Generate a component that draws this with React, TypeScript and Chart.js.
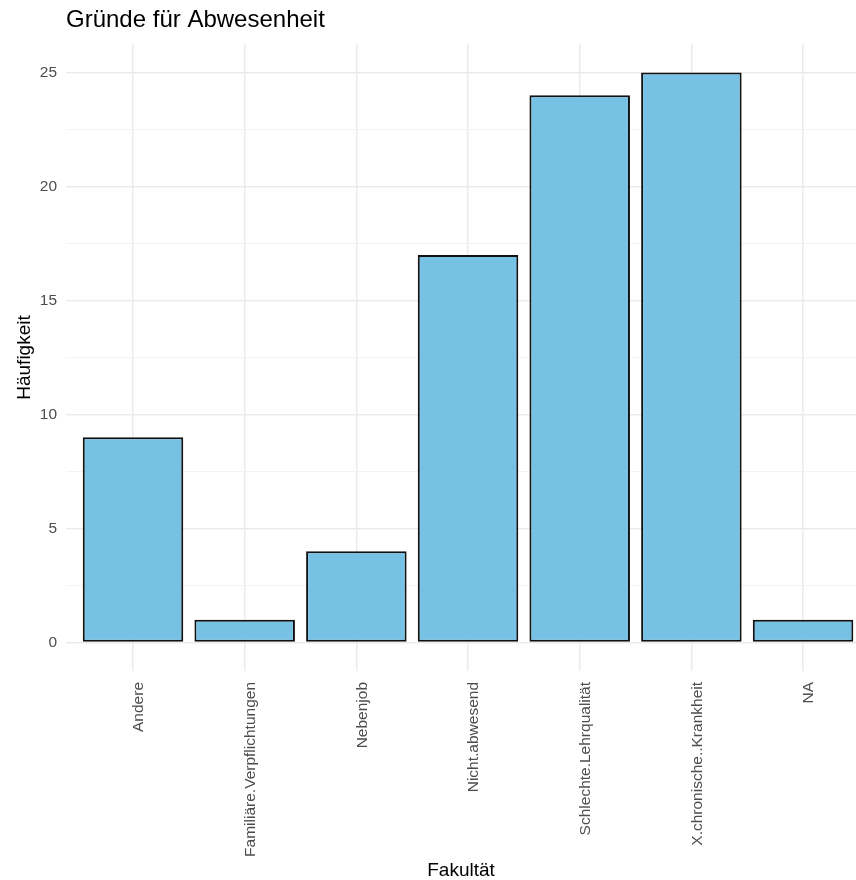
import React, { useEffect, useRef } from "react";
import { Chart, registerables } from "chart.js";

Chart.register(...registerables);

const categories = [
  "Andere",
  "Familiäre.Verpflichtungen",
  "Nebenjob",
  "Nicht.abwesend",
  "Schlechte.Lehrqualität",
  "X.chronische..Krankheit",
  "NA",
];
const counts = [9, 1, 4, 17, 24, 25, 1];
const yTicks = [0, 2.5, 5, 7.5, 10, 12.5, 15, 17.5, 20, 22.5, 25];

const chartTitle = "Gründe für Abwesenheit";
const xTitle = "Fakultät";
const yTitle = "Häufigkeit";

const FONT = "'Liberation Sans', Arial, Helvetica, sans-serif";

export default function App() {
  const ref = useRef<HTMLCanvasElement | null>(null);

  useEffect(() => {
    if (!ref.current) return;
    Chart.defaults.font.family = FONT;
    const chart = new Chart(ref.current, {
      type: "bar",
      data: {
        datasets: [
          {
            data: counts.map((v, i) => ({ x: i, y: v })),
            backgroundColor: "#76C1E4",
            borderColor: "#111111",
            borderWidth: 2,
            borderSkipped: false,
            barPercentage: 0.9,
            categoryPercentage: 1,
          },
        ],
      },
      options: {
        responsive: false,
        animation: false,
        layout: { padding: 0 },
        plugins: {
          legend: { display: false },
          tooltip: { enabled: false },
          title: {
            display: true,
            text: chartTitle,
            align: "start",
            fullSize: false,
            color: "#000000",
            font: { size: 24, weight: "normal", lineHeight: 1.2 },
            padding: { top: 5.6, bottom: 9.6 },
          },
        },
        scales: {
          x: {
            type: "linear",
            offset: false,
            min: -0.6,
            max: 6.474,
            afterBuildTicks: (scale: any) => {
              scale.ticks = categories.map((_, i) => ({ value: i }));
            },
            afterFit: (scale: any) => {
              scale.height = 209;
            },
            ticks: {
              autoSkip: false,
              minRotation: 90,
              maxRotation: 90,
              padding: 11,
              labelOffset: 6,
              color: "#4D4D4D",
              font: { size: 15.5 },
              callback: (v: any) => categories[v] ?? "",
            },
            grid: {
              offset: false,
              color: "#EBEBEB",
              lineWidth: 1.5,
              drawTicks: false,
            },
            border: { display: false },
            title: {
              display: true,
              text: xTitle,
              color: "#000000",
              font: { size: 19, lineHeight: 1 },
              padding: 0,
            },
          },
          y: {
            type: "linear",
            min: -1.25,
            max: 26.25,
            afterBuildTicks: (scale: any) => {
              scale.ticks = yTicks.map((v) => ({ value: v }));
            },
            afterFit: (scale: any) => {
              scale.width = 66;
            },
            ticks: {
              padding: 9,
              color: "#4D4D4D",
              font: { size: 15.5 },
              callback: (v: any) => (Number(v) % 5 === 0 ? String(v) : ""),
            },
            grid: {
              color: (ctx: any) =>
                ctx.tick && Number(ctx.tick.value) % 5 === 0 ? "#EBEBEB" : "#F3F3F3",
              lineWidth: (ctx: any) =>
                ctx.tick && Number(ctx.tick.value) % 5 === 0 ? 1.5 : 1,
              drawTicks: false,
            },
            border: { display: false },
            title: {
              display: true,
              text: yTitle,
              color: "#000000",
              font: { size: 19, lineHeight: 1 },
              padding: { top: 15, bottom: 0 },
            },
          },
        },
      },
    });
    return () => chart.destroy();
  }, []);

  return (
    <div style={{ position: "fixed", left: 0, top: 0, width: 856, height: 880, background: "#ffffff" }}>
      <canvas ref={ref} width={856} height={880} style={{ display: "block" }} />
    </div>
  );
}
